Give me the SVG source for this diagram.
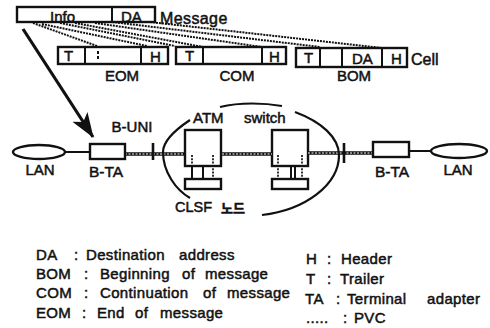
<svg xmlns="http://www.w3.org/2000/svg" width="490" height="328" viewBox="0 0 490 328">
<style>
text{font-family:"Liberation Sans",Arial,sans-serif;font-size:15px;fill:#111;stroke:#111;stroke-width:.5px}
.lg{font-size:15px;letter-spacing:.35px}
.b{fill:none;stroke:#111;stroke-width:2.4}
.w{fill:#fff;stroke:#111;stroke-width:2.4}
.l{fill:none;stroke:#111;stroke-width:2}
.d{fill:none;stroke:#111;stroke-width:2;stroke-dasharray:2 1}
.v{fill:none;stroke:#111;stroke-width:1.7;stroke-dasharray:2 1.3}
.s{fill:none;stroke:#fff;stroke-width:1;stroke-dasharray:2 1.5}
.c{text-anchor:middle}
</style>
<defs>
<marker id="arrow" markerUnits="userSpaceOnUse" markerWidth="28" markerHeight="22" refX="24" refY="11" orient="auto"><path d="M0 2L25 11L0 20L6 11Z" fill="#111"/></marker>
</defs>
<g id="switch-left"><rect class="w" x="185" y="130" width="36" height="36"/><rect class="w" x="185" y="179" width="36" height="10"/></g>
<g id="switch-right"><rect class="w" x="272" y="130" width="36" height="36"/><rect class="w" x="272" y="179" width="36" height="10"/></g>
<g id="connectors">
<path class="d" d="M33 23L97 46M42 24L147 46M60 23L175 46M75 23L203 47M95 23L262 47M112 22L320 47M150 22L382 48"/>
<path d="M23 29L93 137" fill="none" stroke="#111" stroke-width="3.2" marker-end="url(#arrow)"/>
<path class="l" d="M65 152H90M410 151H431"/>
<path d="M125 154H184M222 154H272M308 153H372" fill="none" stroke="#111" stroke-width="3.6"/>
<path class="s" d="M125 154H184M222 154H272M308 153H372"/>
<path d="M153 143V160M344 143V163" fill="none" stroke="#111" stroke-width="2.6"/>
<path class="l" d="M203 167V178M291 167V178M295 167V178M192 167V178"/>
<path class="v" d="M192 155V167M213 155V178M278 155V178M302 155V178"/>
<path d="M190 120C172 132 163 142 163 152C163 172 176 190 190 198M220 107C240 102 265 103 282 106M295 112C322 122 339 138 339 155C339 185 305 210 262 215" fill="none" stroke="#111" stroke-width="2.2"/>
</g>
<g id="message"><rect class="b" x="17" y="7" width="138" height="15"/><path class="l" d="M112 7V22"/><text x="50" y="22">Info</text><text x="121" y="22">DA</text><text x="160" y="24" style="font-size:16px;letter-spacing:.4px">Message</text></g>
<g id="eom"><rect class="b" x="58" y="47" width="110" height="17"/><path class="l" d="M85 47V64M141 47V64"/><text x="64" y="61">T</text><path class="l" d="M98 51V61" stroke-dasharray="3 2"/><text x="150" y="62">H</text><text class="c" x="122" y="81">EOM</text></g>
<g id="com"><rect class="b" x="176" y="47" width="110" height="17"/><path class="l" d="M203 47V64M262 47V64"/><text x="185" y="61">T</text><text x="269" y="62">H</text><text class="c" x="237" y="81">COM</text></g>
<g id="bom"><rect class="b" x="296" y="48" width="111" height="19"/><path class="l" d="M320 48V67M342 48V67M382 48V67"/><text x="304" y="63">T</text><text x="352" y="64">DA</text><text x="391" y="64">H</text><text class="c" x="354" y="81">BOM</text><text x="411" y="65" style="font-size:16px">Cell</text></g>
<g id="lan-left"><ellipse class="b" cx="39" cy="152" rx="26" ry="7"/><text class="c" x="40" y="175">LAN</text></g>
<g id="bta-left"><rect class="b" x="90" y="144" width="35" height="15"/><text class="c" x="106" y="177" style="font-size:15.5px">B-TA</text></g>
<g id="buni"><text class="c" x="132" y="132">B-UNI</text></g>
<g id="atm-label"><text x="193" y="123">ATM</text><text x="244" y="123">switch</text></g>
<g id="clsf"><text x="175" y="212" style="font-size:14.5px">CLSF</text><text x="221" y="213" style="font-family:'Noto Sans CJK KR',sans-serif;font-size:13px;font-weight:700">노드</text></g>
<g id="bta-right"><rect class="b" x="373" y="142" width="36" height="15"/><text class="c" x="392" y="177" style="font-size:15.5px">B-TA</text></g>
<g id="lan-right"><ellipse class="b" cx="459" cy="151" rx="28" ry="7"/><text class="c" x="458" y="175">LAN</text></g>
<g id="legend">
<text class="lg" y="260"><tspan x="36">DA</tspan><tspan x="74">:</tspan><tspan x="86">Destination</tspan><tspan x="179">address</tspan></text>
<text class="lg" y="279"><tspan x="36">BOM</tspan><tspan x="84">:</tspan><tspan x="100">Beginning</tspan><tspan x="182">of</tspan><tspan x="205">message</tspan></text>
<text class="lg" y="298"><tspan x="36">COM</tspan><tspan x="84">:</tspan><tspan x="100">Continuation</tspan><tspan x="203">of</tspan><tspan x="227">message</tspan></text>
<text class="lg" y="318"><tspan x="36">EOM</tspan><tspan x="82">:</tspan><tspan x="97">End</tspan><tspan x="135">of</tspan><tspan x="160">message</tspan></text>
<text class="lg" y="264"><tspan x="306">H</tspan><tspan x="327">:</tspan><tspan x="341">Header</tspan></text>
<text class="lg" y="284"><tspan x="306">T</tspan><tspan x="327">:</tspan><tspan x="340">Trailer</tspan></text>
<text class="lg" y="304"><tspan x="305">TA</tspan><tspan x="336">:</tspan><tspan x="347">Terminal</tspan><tspan x="427">adapter</tspan></text>
<text class="lg" y="323"><tspan x="306">.....</tspan><tspan x="343">:</tspan><tspan x="354">PVC</tspan></text>
</g>
</svg>
